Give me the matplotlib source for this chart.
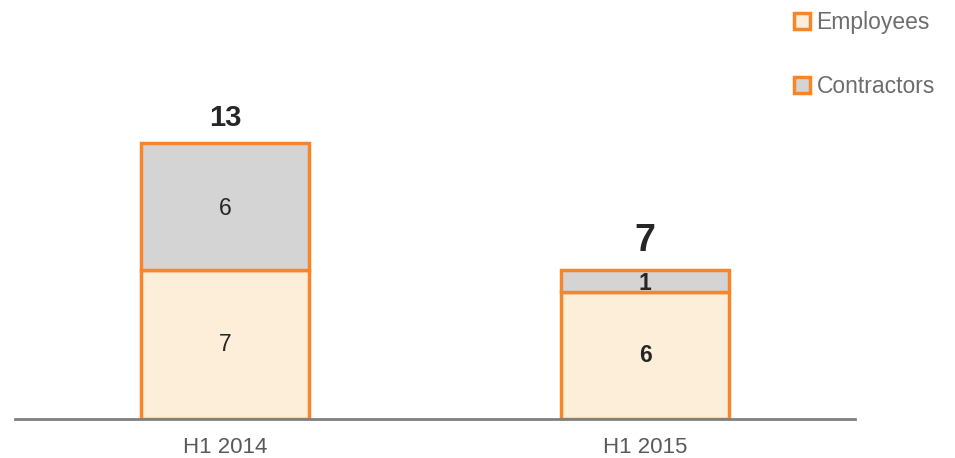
import matplotlib.pyplot as plt
from matplotlib.patches import Patch

plt.rcParams['font.family'] = ['Liberation Sans', 'DejaVu Sans']

categories = ['H1 2014', 'H1 2015']
employees = [7, 6]
contractors = [6, 1]
totals = [e + c for e, c in zip(employees, contractors)]

orange = '#f7862a'
emp_fill = '#fdeed9'
con_fill = '#d4d4d4'

fig = plt.figure(figsize=(9.55, 4.58), dpi=100)
ax = fig.add_axes([15 / 955, 39 / 458, 840 / 955, 419 / 458])

x = range(len(categories))
ax.bar(x, employees, width=0.4, color=emp_fill, edgecolor=orange, linewidth=2.5)
ax.bar(x, contractors, width=0.4, bottom=employees, color=con_fill,
       edgecolor=orange, linewidth=2.5)

# segment labels: first bar normal weight, second bar bold
weights = ['normal', 'bold']
for i in x:
    ax.text(i, employees[i] / 2, str(employees[i]), ha='center', va='center',
            fontsize=16.5, fontweight=weights[i], color='#262626')
    ax.text(i, employees[i] + contractors[i] / 2 - 0.1, str(contractors[i]),
            ha='center', va='center', fontsize=16.5, fontweight=weights[i],
            color='#262626')
tot_sizes = [21, 27]
tot_gap = [1.18, 1.37]
for i in x:
    ax.text(i, totals[i] + tot_gap[i], str(totals[i]), ha='center', va='center',
            fontsize=tot_sizes[i], fontweight='bold', color='#262626')

ax.set_xlim(-0.5, 1.5)
ax.set_ylim(0, 19.75)
ax.set_xticks(list(x))
ax.set_xticklabels(categories, fontsize=16, color='#595959')
ax.tick_params(axis='x', length=0, pad=13)
ax.set_yticks([])
for s in ['top', 'right', 'left']:
    ax.spines[s].set_visible(False)
ax.spines['bottom'].set_color('#808080')
ax.spines['bottom'].set_linewidth(2)

handles = [Patch(facecolor=emp_fill, edgecolor=orange, linewidth=2.5, label='Employees'),
           Patch(facecolor=con_fill, edgecolor=orange, linewidth=2.5, label='Contractors')]
fig.legend(handles=handles, loc='upper left', bbox_to_anchor=(773 / 955, 1.02),
           frameon=False, fontsize=16.5, labelcolor='#6d6d6d', handlelength=0.7,
           handleheight=0.7, handletextpad=0.3, labelspacing=1.75)

fig.savefig('out.png', dpi=100)
